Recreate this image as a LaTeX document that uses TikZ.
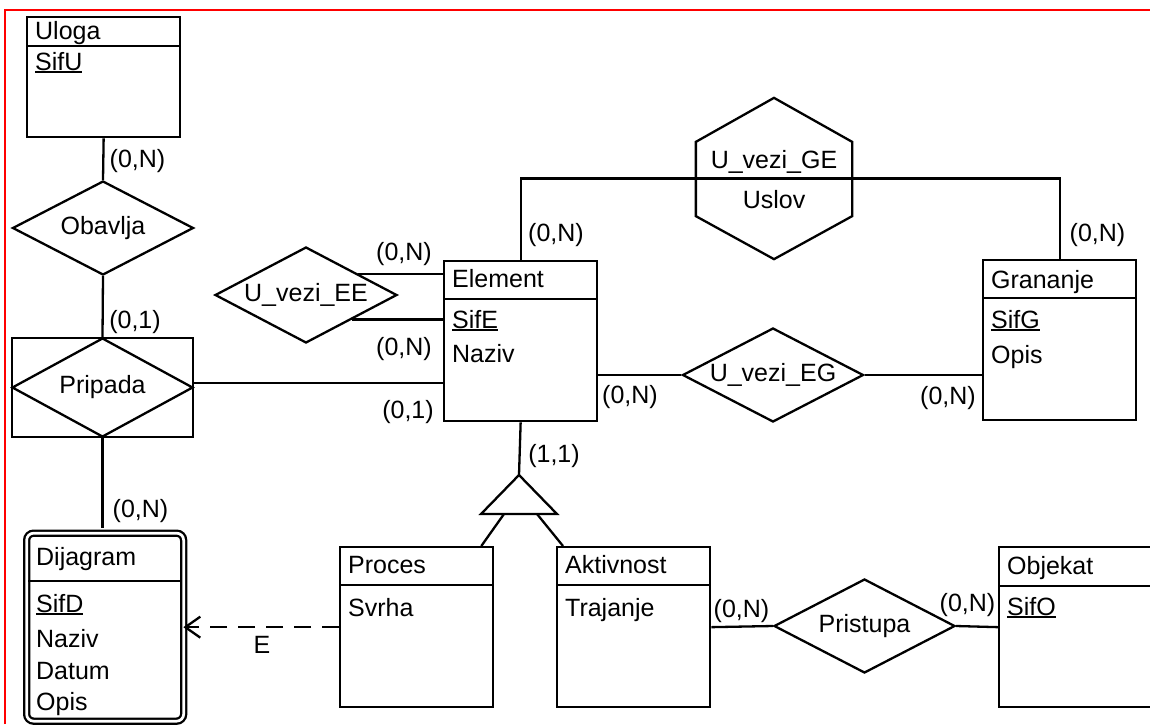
\documentclass[tikz,border=0pt]{standalone}
\usepackage{fontspec}
\setmainfont{Liberation Sans}
\usetikzlibrary{shapes.geometric,arrows.meta}
\newcommand{\kljuc}[1]{\setbox0\hbox{#1}\rlap{\vrule width\wd0 height -1.3pt depth 3.1pt}\box0}
\begin{document}
\begin{tikzpicture}[x=1pt,y=-1pt,line width=2.3pt,
  font=\fontsize{25}{30}\selectfont,
  entitet/.style={draw,rectangle,minimum width=153pt,inner sep=0pt,anchor=north west},
  veza/.style={draw,diamond,aspect=1.9,inner sep=0pt,minimum width=181pt,minimum height=94pt},
  tekst/.style={inner sep=0pt,anchor=base west},
  kard/.style={inner sep=0pt,anchor=base},
  zavisnost/.style={dash pattern=on 17pt off 11pt,-{Straight Barb[length=15pt,width=21pt]}}]
\useasboundingbox (0,0) rectangle (1150,724);
\clip (0,0) rectangle (1150,724);
\draw[red,line width=2pt] (5,724) -- (5,9.5) -- (1150,9.5);
% entiteti
\foreach \ime/\x/\y/\h/\zag/\bl in {Uloga/26/16/120/30/23, Element/443/260/160/39/27, Grananje/982/259/160/39/29, Proces/339/546/160/39/27, Aktivnost/556/546/160/39/27, Objekat/998/546/160/40/28}{
  \node[entitet,minimum height=\h pt] (\ime) at (\x,\y) {};
  \draw ([yshift=-\zag pt]\ime.north west) -- ([yshift=-\zag pt]\ime.north east);
  \node[tekst] (\ime-t) at ([xshift=8pt,yshift=-\bl pt]\ime.north west) {\ime};
}
\node[tekst] (Uloga-a1) at (34,70) {\kljuc{SifU}};
\node[tekst] (Element-a1) at (451,328) {\kljuc{SifE}};
\node[tekst] (Element-a2) at (451,362) {Naziv};
\node[tekst] (Grananje-a1) at (990,328) {\kljuc{SifG}};
\node[tekst] (Grananje-a2) at (990,363) {Opis};
\node[tekst] (Proces-a1) at (347,616) {Svrha};
\node[tekst] (Aktivnost-a1) at (564,616) {Trajanje};
\node[tekst] (Objekat-a1) at (1006,615) {\kljuc{SifO}};
% slabi entitet
\node[entitet,double,double distance=2.7pt,rounded corners=7pt,minimum width=157pt,minimum height=188pt] (Dijagram) at (25.5,532) {};
\draw (28,581) -- (180,581);
\node[tekst] (Dijagram-t) at (35,565) {Dijagram};
\node[tekst] (Dijagram-a1) at (35,612) {\kljuc{SifD}};
\node[tekst] (Dijagram-a2) at (35,647) {Naziv};
\node[tekst] (Dijagram-a3) at (35,679) {Datum};
\node[tekst] (Dijagram-a4) at (35,710) {Opis};
% veze
\node[veza] (Obavlja) at (103,228) {Obavlja};
\node[draw,minimum width=181pt,minimum height=99pt,inner sep=0pt] (PripadaOkvir) at (102.5,387.5) {};
\node[veza,minimum height=99pt] (Pripada) at (102.5,387.5) {Pripada};
\node[veza,minimum width=182pt,minimum height=96pt] (EE) at (306,295) {U\_vezi\_EE};
\node[veza] (EG) at (773,375) {U\_vezi\_EG};
\node[veza] (Pristupa) at (864.5,626) {Pristupa};
% sestougao
\node[minimum width=154pt,minimum height=159pt,inner sep=0pt] (GE) at (774,178.5) {};
\draw (GE.north) -- ([yshift=-44pt]GE.north east) -- ([yshift=43pt]GE.south east) -- (GE.south)
  -- ([yshift=43pt]GE.south west) -- ([yshift=-44pt]GE.north west) -- cycle;
\node[kard] (GE-t) at (774,168) {U\_vezi\_GE};
\node[kard] (GE-a1) at (774,208) {Uslov};
% generalizacija
\coordinate (gen) at (519,475);
\coordinate (genL) at (504,514);
\coordinate (genD) at (537,514);
\draw (gen) -- ++(38,39) -- ++(-76,0) -- cycle;
% linije
\coordinate (pe) at ([yshift=4.5pt]PripadaOkvir.east);
\draw (Uloga.south) -- (Obavlja.north);
\draw (Obavlja.south) -- (PripadaOkvir.north);
\draw[shorten >=3.6pt] (PripadaOkvir.south) -- (PripadaOkvir.south |- Dijagram.north);
\draw (pe) -- (pe -| Element.west);
\draw (EE.22) -- (EE.22 -| Element.west);
\draw (EE.south east) -- (EE.south east -| Element.west);
\draw (Element.north) |- (GE.west) -- (GE.east) -| (Grananje.north);
\draw (EG.west -| Element.east) -- (EG.west);
\draw (EG.east) -- (EG.east -| Grananje.west);
\draw (Element.south) -- (gen);
\draw (genL) -- ([xshift=-13pt]Proces.north east);
\draw (genD) -- ([xshift=7pt]Aktivnost.north west);
\draw (Aktivnost.east) -- (Pristupa.west);
\draw (Pristupa.east) -- (Objekat.west);
\draw[zavisnost,shorten >=-1.5pt] (Proces.west) -- (Proces.west -| Dijagram.east);
\node[kard] (E) at (262,653) {E};
% kardinaliteti
\foreach \x/\y/\t [count=\i] in {137.5/167/{(0,N)}, 135/328/{(0,1)}, 140.5/517/{(0,N)}, 404/260/{(0,N)}, 404/355/{(0,N)}, 408/418/{(0,1)}, 556/241/{(0,N)}, 630/403/{(0,N)}, 1097.5/241/{(0,N)}, 948/404/{(0,N)}, 554/462/{(1,1)}, 741.5/617/{(0,N)}, 967.5/611/{(0,N)}}
  \node[kard] (k\i) at (\x,\y) {\t};
\end{tikzpicture}
\end{document}
